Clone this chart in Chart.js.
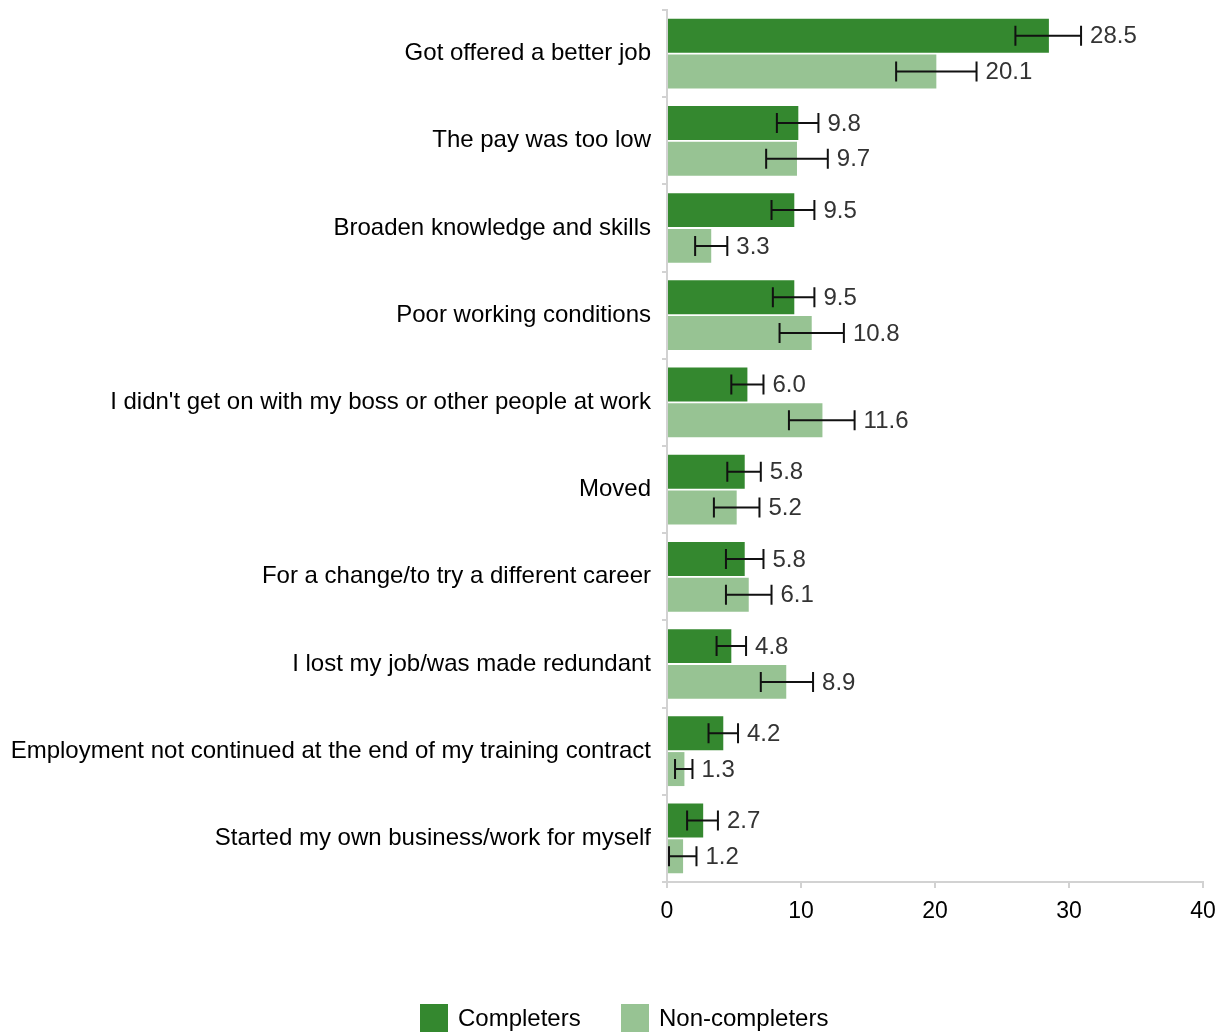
<!DOCTYPE html>
<html>
<head>
<meta charset="utf-8">
<script src="https://cdn.jsdelivr.net/npm/chart.js@4/dist/chart.umd.min.js"></script>
<style>
  html, body { margin: 0; padding: 0; background: #fff; }
  #wrap { width: 1218px; height: 1035px; position: relative; }
</style>
</head>
<body>
<div id="wrap"><canvas id="reasonsChart"></canvas></div>
<script>
// reasons for leaving, % of respondents
const reasons = [
    'Got offered a better job',
    'The pay was too low',
    'Broaden knowledge and skills',
    'Poor working conditions',
    "I didn't get on with my boss or other people at work",
    'Moved',
    'For a change/to try a different career',
    'I lost my job/was made redundant',
    'Employment not continued at the end of my training contract',
    'Started my own business/work for myself'
]
const completers = [28.5, 9.8, 9.5, 9.5, 6.0, 5.8, 5.8, 4.8, 4.2, 2.7]
const completersLow = [26.0, 8.2, 7.8, 7.9, 4.8, 4.5, 4.4, 3.7, 3.1, 1.5]
const completersHigh = [30.9, 11.3, 11.0, 11.0, 7.2, 7.0, 7.2, 5.9, 5.3, 3.8]
const nonCompleters = [20.1, 9.7, 3.3, 10.8, 11.6, 5.2, 6.1, 8.9, 1.3, 1.2]
const nonCompletersLow = [17.1, 7.4, 2.1, 8.4, 9.1, 3.5, 4.4, 7.0, 0.6, 0.15]
const nonCompletersHigh = [23.1, 12.0, 4.5, 13.2, 14.0, 6.9, 7.8, 10.9, 1.9, 2.2]
const xTicks = [0, 10, 20, 30, 40]

const darkGreen = '#34882f'
const lightGreen = '#97c393'
const axisGrey = '#d2d2d2'
const fontFamily = '"Liberation Sans", Arial, Helvetica, sans-serif'

// whiskers plus the value printed past the upper end
const errorBars = {
    id: 'errorBars',
    afterDatasetsDraw(chart) {
        const ctx = chart.ctx
        const x = chart.scales.x
        chart.data.datasets.forEach((ds, i) => {
            const meta = chart.getDatasetMeta(i)
            meta.data.forEach((bar, j) => {
                const y = bar.y
                const lo = x.getPixelForValue(ds.low[j])
                const hi = x.getPixelForValue(ds.high[j])
                ctx.save()
                ctx.strokeStyle = '#111'
                ctx.lineWidth = 2
                ctx.beginPath()
                ctx.moveTo(lo, y)
                ctx.lineTo(hi, y)
                ctx.moveTo(lo, y - 10)
                ctx.lineTo(lo, y + 10)
                ctx.moveTo(hi, y - 10)
                ctx.lineTo(hi, y + 10)
                ctx.stroke()
                ctx.fillStyle = '#333'
                ctx.font = '24px ' + fontFamily
                ctx.textAlign = 'left'
                ctx.textBaseline = 'middle'
                ctx.fillText(ds.data[j].toFixed(1), hi + 9, y + 1)
                ctx.restore()
            })
        })
    }
}

// legend sits well below the axis, so draw it by hand
const bottomLegend = {
    id: 'bottomLegend',
    afterDraw(chart) {
        const ctx = chart.ctx
        const items = [[420, 458], [621, 659]]
        ctx.save()
        ctx.font = '24px ' + fontFamily
        ctx.textBaseline = 'middle'
        chart.data.datasets.forEach((ds, i) => {
            ctx.fillStyle = ds.backgroundColor
            ctx.fillRect(items[i][0], 1004, 28, 28)
            ctx.fillStyle = '#000'
            ctx.fillText(ds.label, items[i][1], 1019)
        })
        ctx.restore()
    }
}

new Chart(document.getElementById('reasonsChart'), {
    type: 'bar',
    data: {
        labels: reasons,
        datasets: [{
            label: 'Completers',
            data: completers,
            low: completersLow,
            high: completersHigh,
            backgroundColor: darkGreen
        }, {
            label: 'Non-completers',
            data: nonCompleters,
            low: nonCompletersLow,
            high: nonCompletersHigh,
            backgroundColor: lightGreen
        }]
    },
    options: {
        indexAxis: 'y',
        responsive: true,
        maintainAspectRatio: false,
        animation: false,
        categoryPercentage: 0.82,
        barPercentage: 0.95,
        layout: { padding: { top: 10, right: 15, left: 0, bottom: 0 } },
        plugins: {
            legend: { display: false },
            tooltip: { enabled: false }
        },
        scales: {
            x: {
                min: 0,
                max: 40,
                afterBuildTicks: scale => { scale.ticks = xTicks.map(v => ({ value: v })) },
                afterFit: scale => {
                    scale.height = 153
                    scale.paddingLeft = 0
                    scale.paddingRight = 0
                },
                border: { color: axisGrey, width: 2 },
                grid: { drawOnChartArea: false, color: axisGrey, tickLength: 6, lineWidth: 2 },
                ticks: { color: '#000', font: { family: fontFamily, size: 23 }, padding: 10 }
            },
            y: {
                afterFit: scale => {
                    scale.width = 667
                    scale.paddingTop = 0
                    scale.paddingBottom = 0
                },
                border: { color: axisGrey, width: 2 },
                grid: { drawOnChartArea: false, color: axisGrey, tickLength: 5, lineWidth: 2 },
                ticks: { color: '#000', font: { family: fontFamily, size: 24 }, padding: 11 }
            }
        }
    },
    plugins: [errorBars, bottomLegend]
})
</script>
</body>
</html>
